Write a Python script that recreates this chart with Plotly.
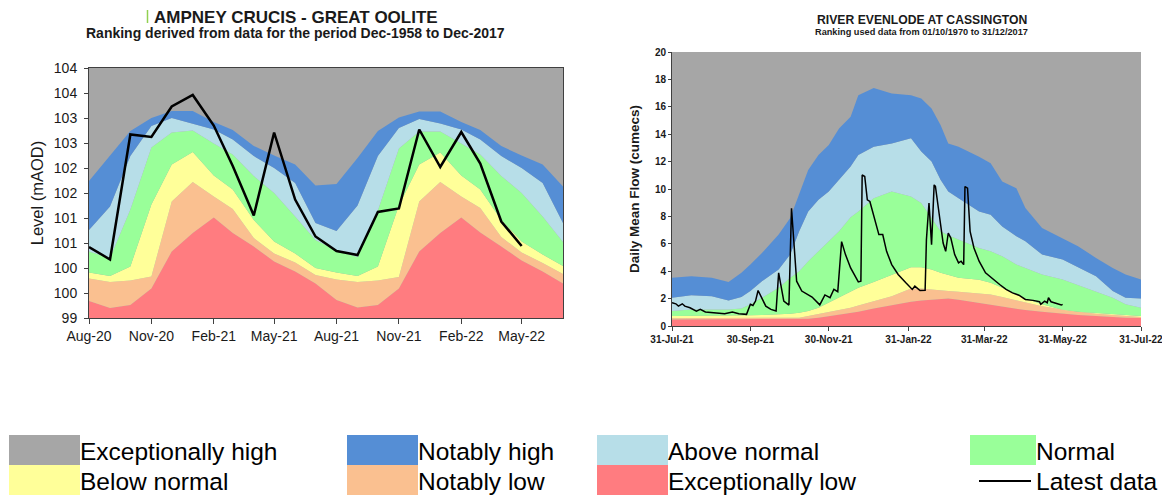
import plotly.graph_objects as go

FONT = "Liberation Sans, Arial, sans-serif"

# ---------------- Left chart: AMPNEY CRUCIS - GREAT OOLITE (monthly, mAOD) ----------------
l_months = ["2020-08-01", "2020-09-01", "2020-10-01", "2020-11-01", "2020-12-01", "2021-01-01",
            "2021-02-01", "2021-03-01", "2021-04-01", "2021-05-01", "2021-06-01", "2021-07-01",
            "2021-08-01", "2021-09-01", "2021-10-01", "2021-11-01", "2021-12-01", "2022-01-01",
            "2022-02-01", "2022-03-01", "2022-04-01", "2022-05-01", "2022-06-01", "2022-07-01"]
# upper boundary of each ranking band
l_exc_low = [99.34, 99.20, 99.26, 99.59, 100.33, 100.70, 101.01, 100.70, 100.43, 100.13, 99.93, 99.69,
             99.36, 99.21, 99.26, 99.59, 100.33, 100.70, 101.01, 100.71, 100.43, 100.15, 99.93, 99.69]
l_not_low = [99.79, 99.72, 99.75, 99.83, 101.33, 101.72, 101.43, 101.18, 100.60, 100.29, 100.11, 99.86,
             99.77, 99.72, 99.75, 99.82, 101.33, 101.72, 101.43, 101.20, 100.62, 100.31, 100.10, 99.88]
l_below = [99.91, 99.84, 100.03, 101.27, 102.07, 102.32, 101.85, 101.57, 100.96, 100.53, 100.29, 100.00,
           99.91, 99.84, 100.03, 101.25, 102.07, 102.31, 101.85, 101.57, 100.96, 100.53, 100.27, 100.04]
l_normal = [100.33, 100.20, 101.17, 102.41, 102.71, 102.75, 102.49, 102.27, 101.84, 101.50, 101.03, 100.56,
            100.35, 100.22, 101.15, 102.39, 102.73, 102.73, 102.49, 102.27, 101.84, 101.50, 101.03, 100.52]
l_above = [100.76, 101.23, 102.24, 102.84, 103.00, 102.89, 102.77, 102.57, 102.24, 102.00, 101.70, 100.90,
           100.74, 101.25, 102.24, 102.80, 102.98, 102.89, 102.77, 102.57, 102.24, 102.00, 101.70, 100.90]
l_not_high = [101.74, 102.24, 102.74, 103.00, 103.14, 103.14, 102.92, 102.76, 102.44, 102.25, 102.07, 101.65,
              101.68, 102.20, 102.74, 103.01, 103.13, 103.13, 102.92, 102.76, 102.44, 102.25, 102.07, 101.63]
l_latest_months = l_months[:22]
l_latest = [100.42, 100.17, 102.67, 102.62, 103.23, 103.46, 102.85, 102.04, 101.05, 102.71, 101.37,
            100.63, 100.34, 100.26, 101.12, 101.19, 102.77, 102.02, 102.72, 102.09, 100.93, 100.44]
l_ytick_vals = [99, 99.5, 100, 100.5, 101, 101.5, 102, 102.5, 103, 103.5, 104]
l_ytick_text = ["99", "100", "100", "101", "101", "102", "102", "103", "103", "104", "104"]

# ---------------- Right chart: RIVER EVENLODE AT CASSINGTON (daily flow, cumecs) ----------------
r_dates = ["2021-07-31", "2021-08-15", "2021-08-31", "2021-09-13", "2021-09-23", "2021-09-30",
           "2021-10-09", "2021-10-22", "2021-10-31", "2021-11-07", "2021-11-14", "2021-11-22",
           "2021-11-30", "2021-12-08", "2021-12-17", "2021-12-23", "2022-01-04", "2022-01-18",
           "2022-02-02", "2022-02-10", "2022-02-18", "2022-02-25", "2022-03-03", "2022-03-11",
           "2022-03-27", "2022-04-05", "2022-04-14", "2022-04-25", "2022-05-02", "2022-05-15",
           "2022-05-31", "2022-06-12", "2022-06-26", "2022-07-09", "2022-07-19", "2022-07-31"]
r_exc_low = [0.48, 0.48, 0.48, 0.48, 0.48, 0.48, 0.48, 0.48, 0.48, 0.48, 0.53, 0.61,
             0.73, 0.80, 0.95, 1.04, 1.28, 1.53, 1.77, 1.87, 1.94, 2.01, 2.01, 1.92,
             1.70, 1.58, 1.43, 1.26, 1.16, 1.04, 0.90, 0.80, 0.73, 0.65, 0.61, 0.58]
r_not_low = [0.56, 0.56, 0.56, 0.56, 0.56, 0.58, 0.58, 0.60, 0.61, 0.61, 0.73, 0.85,
             1.02, 1.16, 1.33, 1.50, 1.82, 2.18, 2.74, 2.74, 2.67, 2.59, 2.55, 2.50,
             2.35, 2.30, 2.11, 1.87, 1.77, 1.45, 1.21, 1.04, 0.90, 0.80, 0.73, 0.65]
r_below = [0.73, 0.73, 0.73, 0.73, 0.73, 0.78, 0.80, 0.85, 0.90, 0.97, 1.09, 1.33,
           1.70, 2.06, 2.50, 2.79, 3.22, 3.76, 4.29, 4.29, 4.12, 3.88, 3.71, 3.52,
           3.37, 3.15, 2.79, 2.30, 2.01, 1.58, 1.19, 1.04, 0.95, 0.87, 0.80, 0.73]
r_normal = [1.09, 1.21, 1.21, 1.21, 1.28, 1.58, 2.06, 2.79, 3.52, 4.00, 4.73, 5.45,
            6.18, 6.91, 7.93, 8.36, 9.33, 9.82, 9.45, 8.97, 7.88, 6.91, 6.62, 6.30,
            5.70, 5.45, 5.09, 4.48, 4.24, 3.76, 3.39, 2.98, 2.55, 2.06, 1.58, 1.33]
r_above = [2.06, 2.25, 2.18, 1.87, 2.11, 2.55, 3.27, 4.12, 5.21, 6.91, 8.36, 9.21,
           9.82, 10.67, 11.64, 12.48, 13.09, 13.33, 13.70, 12.73, 12.00, 10.67, 9.82, 9.33,
           8.36, 8.12, 7.27, 6.55, 6.18, 5.21, 4.85, 4.29, 3.64, 2.55, 2.06, 2.01]
r_not_high = [3.52, 3.64, 3.52, 3.22, 3.88, 4.48, 5.33, 6.67, 7.88, 9.58, 11.39, 12.48,
              13.21, 14.42, 15.27, 16.85, 17.38, 16.97, 16.85, 16.61, 15.88, 14.67, 13.33, 13.09,
              12.36, 11.88, 10.55, 10.06, 8.61, 7.15, 6.42, 5.82, 4.97, 4.24, 3.76, 3.39]
r_latest_dates = ["2021-07-31", "2021-08-03", "2021-08-05", "2021-08-08", "2021-08-10", "2021-08-14",
                  "2021-08-19", "2021-08-22", "2021-08-26", "2021-09-03", "2021-09-10", "2021-09-16",
                  "2021-09-21", "2021-09-27", "2021-09-30", "2021-10-02", "2021-10-04", "2021-10-06",
                  "2021-10-09", "2021-10-12", "2021-10-16", "2021-10-20", "2021-10-22", "2021-10-26",
                  "2021-10-30", "2021-11-01", "2021-11-05", "2021-11-09", "2021-11-17", "2021-11-23",
                  "2021-11-27", "2021-12-01", "2021-12-04", "2021-12-07", "2021-12-10", "2021-12-13",
                  "2021-12-17", "2021-12-21", "2021-12-23", "2021-12-25", "2021-12-26", "2021-12-28",
                  "2021-12-30", "2022-01-01", "2022-01-05", "2022-01-08", "2022-01-11", "2022-01-14",
                  "2022-01-18", "2022-01-23", "2022-01-29", "2022-02-03", "2022-02-05", "2022-02-09",
                  "2022-02-13", "2022-02-14", "2022-02-16", "2022-02-18", "2022-02-20", "2022-02-21",
                  "2022-02-24", "2022-02-27", "2022-03-01", "2022-03-03", "2022-03-05", "2022-03-08",
                  "2022-03-11", "2022-03-13", "2022-03-15", "2022-03-16", "2022-03-18", "2022-03-20",
                  "2022-03-23", "2022-03-27", "2022-04-01", "2022-04-07", "2022-04-12", "2022-04-17",
                  "2022-04-22", "2022-04-27", "2022-05-02", "2022-05-08", "2022-05-13", "2022-05-14",
                  "2022-05-17", "2022-05-19", "2022-05-20", "2022-05-22", "2022-05-24", "2022-05-27",
                  "2022-05-30", "2022-05-31"]
r_latest = [1.70, 1.62, 1.45, 1.62, 1.45, 1.33,
            1.09, 1.21, 1.02, 0.97, 0.90, 1.02,
            0.90, 0.85, 1.58, 1.50, 1.82, 2.59,
            2.06, 1.45, 1.21, 1.09, 3.88, 1.82,
            1.53, 8.60, 3.27, 2.55, 2.11, 1.54,
            2.27, 2.07, 2.68, 2.51, 6.16, 5.21,
            4.24, 3.52, 3.22, 3.27, 11.03, 10.91,
            9.21, 9.09, 7.64, 6.67, 6.67, 5.45,
            4.48, 3.76, 3.15, 2.67, 2.91, 2.59,
            2.60, 6.30, 8.97, 5.94, 10.30, 10.20,
            8.12, 6.06, 5.45, 6.79, 6.42, 5.21,
            4.61, 4.73, 4.48, 10.18, 10.06, 6.91,
            5.70, 4.73, 3.88, 3.39, 3.03, 2.67,
            2.42, 2.25, 1.94, 1.87, 1.77, 1.58,
            1.82, 1.70, 2.06, 1.77, 1.70, 1.58,
            1.53, 1.58]
r_tick_dates = ["2021-07-31", "2021-09-30", "2021-11-30", "2022-01-31", "2022-03-31", "2022-05-31", "2022-07-31"]

# ---------------- styling ----------------
band_names = ["Exceptionally low", "Notably low", "Below normal", "Normal", "Above normal", "Notably high"]
band_colors = ["#FF7C80", "#FAC090", "#FFFF99", "#99FF99", "#B7DEE8", "#558ED5"]
C_GRAY = "#A6A6A6"
AX = "#404040"
TXT = "#1a1a1a"

fig = go.Figure()

left_bands = [l_exc_low, l_not_low, l_below, l_normal, l_above, l_not_high]
for i, (name, col, vals) in enumerate(zip(band_names, band_colors, left_bands)):
    fig.add_trace(go.Scatter(x=l_months, y=vals, mode="lines", name=name, line=dict(width=0, color=col),
                             fill="tozeroy" if i == 0 else "tonexty", fillcolor=col,
                             xaxis="x", yaxis="y", showlegend=False, hoverinfo="skip"))
fig.add_trace(go.Scatter(x=l_latest_months, y=l_latest, mode="lines", name="Latest data",
                         line=dict(color="black", width=2.5), xaxis="x", yaxis="y", showlegend=False))

right_bands = [r_exc_low, r_not_low, r_below, r_normal, r_above, r_not_high]
for i, (name, col, vals) in enumerate(zip(band_names, band_colors, right_bands)):
    fig.add_trace(go.Scatter(x=r_dates, y=vals, mode="lines", name=name, line=dict(width=0, color=col),
                             fill="tozeroy" if i == 0 else "tonexty", fillcolor=col,
                             xaxis="x2", yaxis="y2", showlegend=False, hoverinfo="skip"))
fig.add_trace(go.Scatter(x=r_latest_dates, y=r_latest, mode="lines", name="Latest data",
                         line=dict(color="black", width=1.5), xaxis="x2", yaxis="y2", showlegend=False))

# The page body has an 8px default margin, so the figure is drawn 8px smaller
# and all target-pixel positions are shifted by that offset.
OFF = 8
W, H = 1170 - OFF, 497 - OFF


def px(x):
    return (x - OFF) / W


def py(y):
    return 1 - (y - OFF) / H


fig.update_layout(
    width=W, height=H, margin=dict(l=0, r=0, t=0, b=0, autoexpand=False),
    paper_bgcolor="white", plot_bgcolor=C_GRAY,
    font=dict(family=FONT, color=TXT),
    xaxis=dict(domain=[px(89), px(563)], type="date", range=["2020-08-01", "2022-07-01"],
               tickformat="%b-%y", dtick="M3", tick0="2020-08-01", automargin=False,
               ticks="outside", ticklen=5, tickcolor=AX, showline=True, linecolor=AX, linewidth=1,
               mirror=True, showgrid=False, zeroline=False, tickfont=dict(size=14, color=TXT),
               anchor="y"),
    yaxis=dict(domain=[py(318), py(68)], range=[99, 104], tickvals=l_ytick_vals, ticktext=l_ytick_text,
               ticks="outside", ticklen=4, tickcolor=AX, showline=True, linecolor=AX, linewidth=1,
               mirror=True, showgrid=False, zeroline=False, tickfont=dict(size=14, color=TXT),
               automargin=False, ticklabelstandoff=4,
               title=dict(text="Level (mAOD)", font=dict(size=16.5, color=TXT), standoff=6),
               anchor="x"),
    xaxis2=dict(domain=[px(672), px(1141)], type="date", range=["2021-07-31", "2022-07-31"],
                tickvals=r_tick_dates, tickformat="%d-%b-%y", automargin=False,
                ticks="outside", ticklen=4, tickcolor=AX, showline=True, linecolor=AX, linewidth=1,
                showgrid=False, zeroline=False, tickfont=dict(size=10, color=TXT, weight="bold"),
                anchor="y2"),
    yaxis2=dict(domain=[py(326), py(52)], range=[0, 20], dtick=2, tick0=0, automargin=False,
                ticks="outside", ticklen=3, tickcolor=AX, showline=True, linecolor=AX, linewidth=1,
                showgrid=False, zeroline=False, tickfont=dict(size=10, color=TXT, weight="bold"),
                title=dict(text="<b>Daily Mean Flow (cumecs)</b>", font=dict(size=13.5, color=TXT), standoff=12),
                anchor="x2"),
)

annotations = [
    dict(text="<b>AMPNEY CRUCIS - GREAT OOLITE</b>", x=px(296), y=py(17), font=dict(size=17)),
    dict(text="<b>Ranking derived from data for the period Dec-1958 to Dec-2017</b>", x=px(295), y=py(33),
         font=dict(size=14)),
    dict(text="<b>RIVER EVENLODE AT CASSINGTON</b>", x=px(922), y=py(20), font=dict(size=12.2)),
    dict(text="<b>Ranking used data from 01/10/1970 to 31/12/2017</b>", x=px(921), y=py(32.5),
         font=dict(size=9.2)),
]
for a in annotations:
    a.update(xref="paper", yref="paper", xanchor="center", yanchor="middle", showarrow=False)
    a["font"].update(family=FONT, color=TXT)

shapes = [dict(type="line", xref="paper", yref="paper", x0=px(147.5), x1=px(147.5), y0=py(10), y1=py(23),
               line=dict(color="#92D050", width=1.5))]

# Legend (swatches + labels)
legend_items = [
    ("Exceptionally high", C_GRAY, 9, 80, 0),
    ("Below normal", band_colors[2], 9, 80, 1),
    ("Notably high", band_colors[5], 347, 418, 0),
    ("Notably low", band_colors[1], 347, 418, 1),
    ("Above normal", band_colors[4], 597, 668, 0),
    ("Exceptionally low", band_colors[0], 597, 668, 1),
    ("Normal", band_colors[3], 970, 1036, 0),
]
row_top = [435, 465]
for label, col, x0, x1, row in legend_items:
    t = row_top[row]
    shapes.append(dict(type="rect", xref="paper", yref="paper", x0=px(x0), x1=px(x1), y0=py(t + 30), y1=py(t),
                       fillcolor=col, line=dict(width=0)))
    annotations.append(dict(text=label, x=px(x1 - 2), y=py(t + 16), xref="paper", yref="paper",
                            xanchor="left", yanchor="middle", showarrow=False,
                            font=dict(family=FONT, size=24.5, color="black")))
shapes.append(dict(type="line", xref="paper", yref="paper", x0=px(979), x1=px(1031), y0=py(481), y1=py(481),
                   line=dict(color="black", width=2)))
annotations.append(dict(text="Latest data", x=px(1034), y=py(481), xref="paper", yref="paper",
                        xanchor="left", yanchor="middle", showarrow=False,
                        font=dict(family=FONT, size=24.5, color="black")))

fig.update_layout(annotations=annotations, shapes=shapes)
fig.write_html("out.html")
